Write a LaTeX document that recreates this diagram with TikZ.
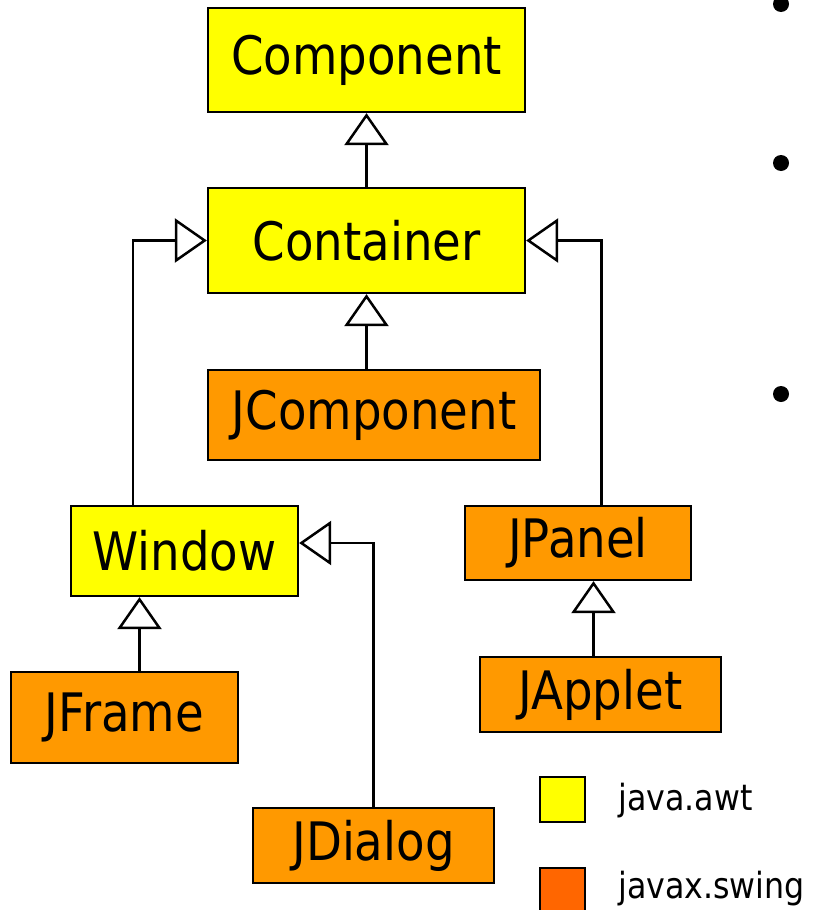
\documentclass[tikz,border=0pt]{standalone}
\usepackage{fontspec}
\setmainfont{DejaVu Sans}[FakeStretch=0.88]
\usetikzlibrary{arrows.meta}

\definecolor{awtyellow}{HTML}{FFFF00}
\definecolor{swingorange}{HTML}{FF9900}
\definecolor{legendorange}{HTML}{FF6600}

\tikzset{
  cls/.style={draw=black, line width=2.3pt, inner sep=0pt,
              font=\fontsize{53}{60}\selectfont},
  awt/.style={cls, fill=awtyellow},
  swing/.style={cls, fill=swingorange},
  inherit/.style={draw=black, line width=2.5pt,
                  -{Triangle[open, length=32pt, width=44pt]}},
  legendbox/.style={draw=black, line width=2.3pt, minimum size=45pt, inner sep=0pt},
  legendtext/.style={anchor=base west, inner sep=0pt,
                     font=\fontsize{36}{44}\selectfont},
}

\begin{document}
\begin{tikzpicture}[x=1pt, y=-1pt]
  \useasboundingbox (0,0) rectangle (812,910);

  % class boxes
  \node[awt,   minimum width=317pt, minimum height=104pt] (comp)  at (366.5,60)    {Component};
  \node[awt,   minimum width=317pt, minimum height=105pt] (cont)  at (366.5,240.5) {Container};
  \node[swing, minimum width=332pt, minimum height=90pt]  (jcomp) at (374,415)     {JComponent};
  \node[awt,   minimum width=227pt, minimum height=90pt]  (win)   at (184.5,551)   {Window};
  \node[swing, minimum width=226pt, minimum height=74pt]  (jpan)  at (578,543)     {JPanel};
  \node[swing, minimum width=227pt, minimum height=91pt]  (jfr)   at (124.5,717.5) {JFrame};
  \node[swing, minimum width=241pt, minimum height=75pt]  (japp)  at (600.5,694.5) {JApplet};
  \node[swing, minimum width=241pt, minimum height=75pt]  (jdia)  at (373.5,845.5) {JDialog};

  % inheritance arrows
  \draw[inherit] (cont.north) -- (comp.south);
  \draw[inherit] (jcomp.north -| cont.south) -- (cont.south);
  \draw[inherit] ([xshift=-51.5pt]win.north) |- (cont.west);
  \draw[inherit] ([xshift=23.5pt]jpan.north) |- (cont.east);
  \draw[inherit] ([xshift=15pt]jfr.north) -- ([xshift=-45pt]win.south);
  \draw[inherit] (jdia.north) |- ([yshift=8pt]win.east);
  \draw[inherit] ([xshift=-7pt]japp.north) -- ([xshift=15.5pt]jpan.south);

  % legend
  \node[legendbox, fill=awtyellow]    (lawt)   at (562.5,799.5) {};
  \node[legendbox, fill=legendorange] (lswing) at (562.5,890.5) {};
  \node[legendtext] (tawt)   at (618,810) {java.awt};
  \node[legendtext] (tswing) at (618,898) {javax.swing};

  % bullet marks at the right edge
  \fill (781,4) circle (8pt);
  \fill (781,163) circle (8pt);
  \fill (781,394) circle (8pt);
\end{tikzpicture}
\end{document}
